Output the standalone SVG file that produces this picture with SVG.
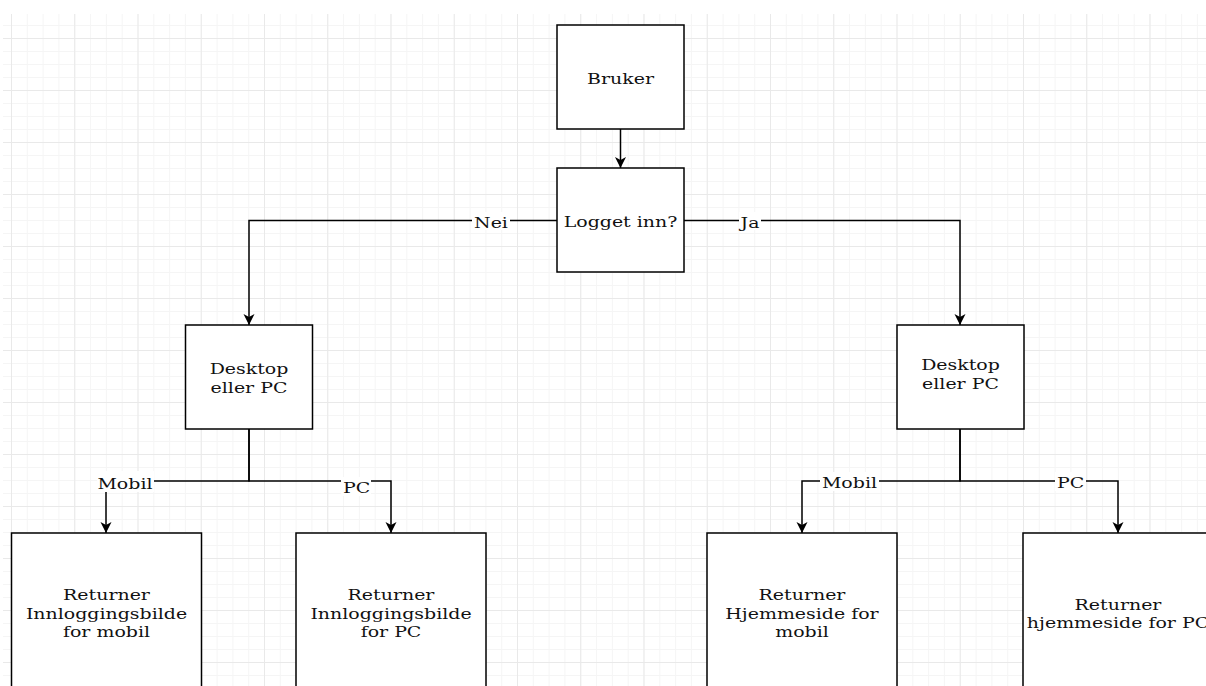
<svg xmlns="http://www.w3.org/2000/svg" width="1206" height="686" viewBox="0 0 1206 686">
<style>
.node rect{fill:#fff;stroke:#000;stroke-width:1.5}
.t{font-family:"DejaVu Serif","Liberation Serif",serif;font-size:15.6px;fill:#111;text-anchor:middle}
.edge{fill:none;stroke:#000;stroke-width:1.5}
.lbg{fill:#fff}
</style>
<defs>
<pattern id="minor" patternUnits="userSpaceOnUse" x="11" y="25" width="15.8125" height="13">
<rect x="0" y="0" width="1" height="13" fill="#f5f5f5"/>
<rect x="0" y="0" width="15.8125" height="1" fill="#f5f5f5"/>
</pattern>
<pattern id="major" patternUnits="userSpaceOnUse" x="11" y="38" width="63.25" height="52">
<rect x="0" y="0" width="1" height="52" fill="#e9e9e9"/>
<rect x="0" y="0" width="63.25" height="1" fill="#e9e9e9"/>
</pattern>
<marker id="arr" markerUnits="userSpaceOnUse" markerWidth="12" markerHeight="12" refX="11" refY="6" orient="auto" viewBox="0 0 12 12">
<path d="M0,0.5 L11,6 L0,11.5 L3,6 Z" fill="#000"/>
</marker>
</defs>
<rect width="1206" height="686" fill="#fff"/>
<rect x="3" y="14" width="1203" height="672" fill="url(#minor)"/>
<rect x="3" y="14" width="1203" height="672" fill="url(#major)"/>

<g id="connectors">
<path class="edge" d="M620.5,129 V168" marker-end="url(#arr)"/>
<path class="edge" d="M557,220.5 H249 V325" marker-end="url(#arr)"/>
<path class="edge" d="M684,220.5 H960 V325" marker-end="url(#arr)"/>
<path class="edge" d="M249,429 V481 H106 V533" marker-end="url(#arr)"/>
<path class="edge" d="M249,429 V481 H391 V533" marker-end="url(#arr)"/>
<path class="edge" d="M960,429 V481 H802 V533" marker-end="url(#arr)"/>
<path class="edge" d="M960,429 V481 H1118 V533" marker-end="url(#arr)"/>
<rect class="lbg" x="472" y="212" width="38" height="18"/>
<text class="t" transform="translate(491,228) scale(1.215,1)">Nei</text>
<rect class="lbg" x="739" y="212" width="22" height="18"/>
<text class="t" transform="translate(750,228) scale(1.215,1)">Ja</text>
<rect class="lbg" x="97" y="471" width="57" height="21"/>
<text class="t" transform="translate(125,489) scale(1.215,1)">Mobil</text>
<rect class="lbg" x="341" y="477" width="30" height="19"/>
<text class="t" transform="translate(356.5,493) scale(1.215,1)">PC</text>
<rect class="lbg" x="820" y="472" width="59" height="19"/>
<text class="t" transform="translate(849.5,488) scale(1.215,1)">Mobil</text>
<rect class="lbg" x="1055" y="472" width="31" height="19"/>
<text class="t" transform="translate(1070.5,488) scale(1.215,1)">PC</text>
</g>

<g id="bruker" class="node">
<rect x="557" y="25" width="127" height="104"/>
<text class="t" transform="translate(620.5,84) scale(1.215,1)">Bruker</text>
</g>
<g id="logget" class="node">
<rect x="557" y="168" width="127" height="104"/>
<text class="t" transform="translate(620.5,227) scale(1.215,1)">Logget inn?</text>
</g>
<g id="desktop-left" class="node">
<rect x="185.5" y="325" width="127" height="104"/>
<text class="t" transform="translate(249,374) scale(1.215,1)">Desktop</text>
<text class="t" transform="translate(249,392.5) scale(1.215,1)">eller PC</text>
</g>
<g id="desktop-right" class="node">
<rect x="897" y="325" width="127" height="104"/>
<text class="t" transform="translate(960.5,370) scale(1.215,1)">Desktop</text>
<text class="t" transform="translate(960.5,388.5) scale(1.215,1)">eller PC</text>
</g>
<g id="ret-innlogging-mobil" class="node">
<rect x="11.5" y="533" width="190" height="156"/>
<text class="t" transform="translate(106.5,600) scale(1.215,1)">Returner</text>
<text class="t" transform="translate(106.5,618.5) scale(1.215,1)">Innloggingsbilde</text>
<text class="t" transform="translate(106.5,637) scale(1.215,1)">for mobil</text>
</g>
<g id="ret-innlogging-pc" class="node">
<rect x="296" y="533" width="190" height="156"/>
<text class="t" transform="translate(391,600) scale(1.215,1)">Returner</text>
<text class="t" transform="translate(391,618.5) scale(1.215,1)">Innloggingsbilde</text>
<text class="t" transform="translate(391,637) scale(1.215,1)">for PC</text>
</g>
<g id="ret-hjemmeside-mobil" class="node">
<rect x="707" y="533" width="190" height="156"/>
<text class="t" transform="translate(802,600) scale(1.215,1)">Returner</text>
<text class="t" transform="translate(802,618.5) scale(1.215,1)">Hjemmeside for</text>
<text class="t" transform="translate(802,637) scale(1.215,1)">mobil</text>
</g>
<g id="ret-hjemmeside-pc" class="node">
<rect x="1023" y="533" width="190" height="156"/>
<text class="t" transform="translate(1118,609.5) scale(1.215,1)">Returner</text>
<text class="t" transform="translate(1118,628) scale(1.215,1)">hjemmeside for PC</text>
</g>
</svg>
